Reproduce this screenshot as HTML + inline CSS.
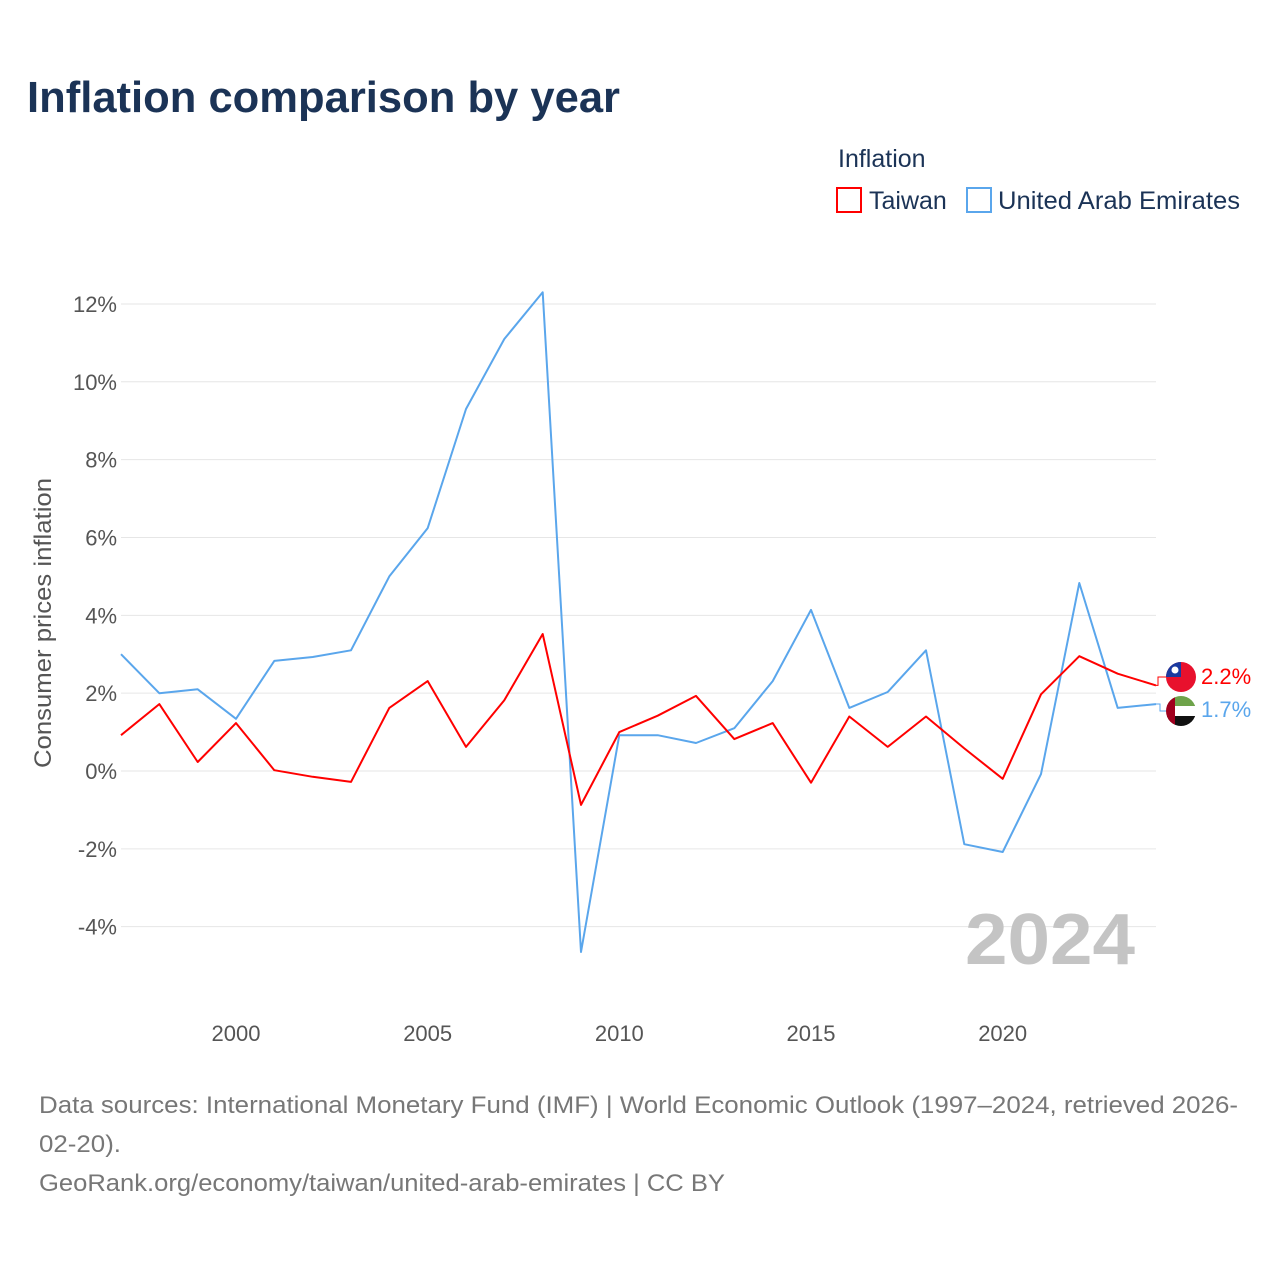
<!DOCTYPE html>
<html><head><meta charset="utf-8"><style>
body{margin:0;background:#fff;font-family:"Liberation Sans",sans-serif;}
#wrap{position:relative;width:1280px;height:1280px;overflow:hidden}
</style></head><body>
<div id="wrap">
<svg id="chart" width="1280" height="1280" xmlns="http://www.w3.org/2000/svg"></svg>
</div>
<script>
const years=[1997,1998,1999,2000,2001,2002,2003,2004,2005,2006,2007,2008,2009,2010,2011,2012,2013,2014,2015,2016,2017,2018,2019,2020,2021,2022,2023,2024];
const taiwan=[0.92,1.72,0.23,1.23,0.02,-0.15,-0.28,1.62,2.31,0.62,1.82,3.52,-0.87,1.0,1.42,1.93,0.82,1.23,-0.3,1.4,0.62,1.4,0.58,-0.2,1.97,2.95,2.5,2.2];
const uae=[3.0,2.0,2.1,1.34,2.83,2.93,3.1,5.0,6.24,9.3,11.1,12.3,-4.65,0.92,0.92,0.72,1.1,2.31,4.14,1.62,2.03,3.1,-1.88,-2.08,-0.08,4.83,1.62,1.72];
const yTicks=[-4,-2,0,2,4,6,8,10,12];
const xTicks=[2000,2005,2010,2015,2020];
const NS="http://www.w3.org/2000/svg";
const svg=document.getElementById('chart');
const X=y=>121+(y-1997)*(1156-121)/27;
const Y=v=>771-v*38.92;
function el(t,a,txt){const e=document.createElementNS(NS,t);for(const k in a)e.setAttribute(k,a[k]);if(txt!==undefined)e.textContent=txt;svg.appendChild(e);return e;}
let e;
e=el('text',{x:27,y:112,'font-size':44,'font-weight':'bold',fill:'#1b3356',textLength:593,lengthAdjust:'spacingAndGlyphs'},'Inflation comparison by year');

e=el('text',{x:838,y:167,'font-size':25,fill:'#1b3356'},'Inflation');

e=el('rect',{x:837,y:188,width:24,height:24,fill:'none',stroke:'#ff0000','stroke-width':2});

e=el('text',{x:869,y:209,'font-size':25,fill:'#1b3356'},'Taiwan');

e=el('rect',{x:967,y:188,width:24,height:24,fill:'none',stroke:'#5aa6ec','stroke-width':2});

e=el('text',{x:998,y:209,'font-size':25,fill:'#1b3356',textLength:242,lengthAdjust:'spacingAndGlyphs'},'United Arab Emirates');

yTicks.forEach(t=>{
 e=el('line',{x1:121,x2:1156,y1:Y(t),y2:Y(t),stroke:'#e6e6e6','stroke-width':1});
 
 e=el('text',{x:117,y:Y(t)+8,'font-size':22,fill:'#555','text-anchor':'end'},t+'%');
 
});
xTicks.forEach(t=>{
 e=el('text',{x:X(t),y:1041,'font-size':22,fill:'#555','text-anchor':'middle'},String(t));
 
});
e=el('text',{x:0,y:0,'font-size':24,fill:'#555','text-anchor':'middle',transform:'translate(51,623) rotate(-90)',textLength:290,lengthAdjust:'spacingAndGlyphs'},'Consumer prices inflation');

e=el('text',{x:1135,y:964,'font-size':72,'font-weight':'bold',fill:'#c4c4c4','text-anchor':'end',textLength:170,lengthAdjust:'spacingAndGlyphs'},'2024');

function line(vals,col,name){
 const d=vals.map((v,i)=>(i?'L':'M')+X(years[i]).toFixed(1)+','+Y(v).toFixed(1)).join('');
 const p=el('path',{d:d,fill:'none',stroke:col,'stroke-width':2,'stroke-linejoin':'round'});
 
}
line(uae,'#5aa6ec','line-uae');
line(taiwan,'#ff0000','line-taiwan');
const tv=taiwan[taiwan.length-1],uv=uae[uae.length-1];
e=el('path',{d:`M${X(2024)},${Y(tv)} L1158,${Y(tv)} L1158,677 L1166,677`,fill:'none',stroke:'#ff0000','stroke-width':1});

e=el('path',{d:`M${X(2024)},${Y(uv)} L1160,${Y(uv)} L1160,711 L1166,711`,fill:'none',stroke:'#5aa6ec','stroke-width':1});

e=el('circle',{cx:1181,cy:677,r:15,fill:'#e8112d'});

e=el('path',{d:'M1166,677 A15,15 0 0 1 1181,662 L1181,677 Z',fill:'#1a3aa0'});

e=el('circle',{cx:1175,cy:670,r:3.5,fill:'#fff'});

e=el('text',{x:1201,y:684,'font-size':22,fill:'#ff0000'},tv.toFixed(1)+'%');

const cp=el('clipPath',{id:'uc'});const cc=document.createElementNS(NS,'circle');cc.setAttribute('cx',1181);cc.setAttribute('cy',711);cc.setAttribute('r',15);cp.appendChild(cc);
const g=el('g',{'clip-path':'url(#uc)'});

[['#6ea34a',696],['#ffffff',706],['#111111',716]].forEach(([c,y])=>{const r=document.createElementNS(NS,'rect');r.setAttribute('x',1166);r.setAttribute('y',y);r.setAttribute('width',30);r.setAttribute('height',10);r.setAttribute('fill',c);g.appendChild(r);});
const rr=document.createElementNS(NS,'rect');rr.setAttribute('x',1166);rr.setAttribute('y',696);rr.setAttribute('width',9);rr.setAttribute('height',30);rr.setAttribute('fill','#a0001e');g.appendChild(rr);
e=el('text',{x:1201,y:717,'font-size':22,fill:'#5aa6ec'},uv.toFixed(1)+'%');

const src=['Data sources: International Monetary Fund (IMF) | World Economic Outlook (1997–2024, retrieved 2026-','02-20).','GeoRank.org/economy/taiwan/united-arab-emirates | CC BY'];
const srcLen=[1199,82,686];
src.forEach((s,i)=>{e=el('text',{x:39,y:1113+i*39,'font-size':24,fill:'#777',textLength:srcLen[i],lengthAdjust:'spacingAndGlyphs'},s);
 });
</script>
</body></html>
